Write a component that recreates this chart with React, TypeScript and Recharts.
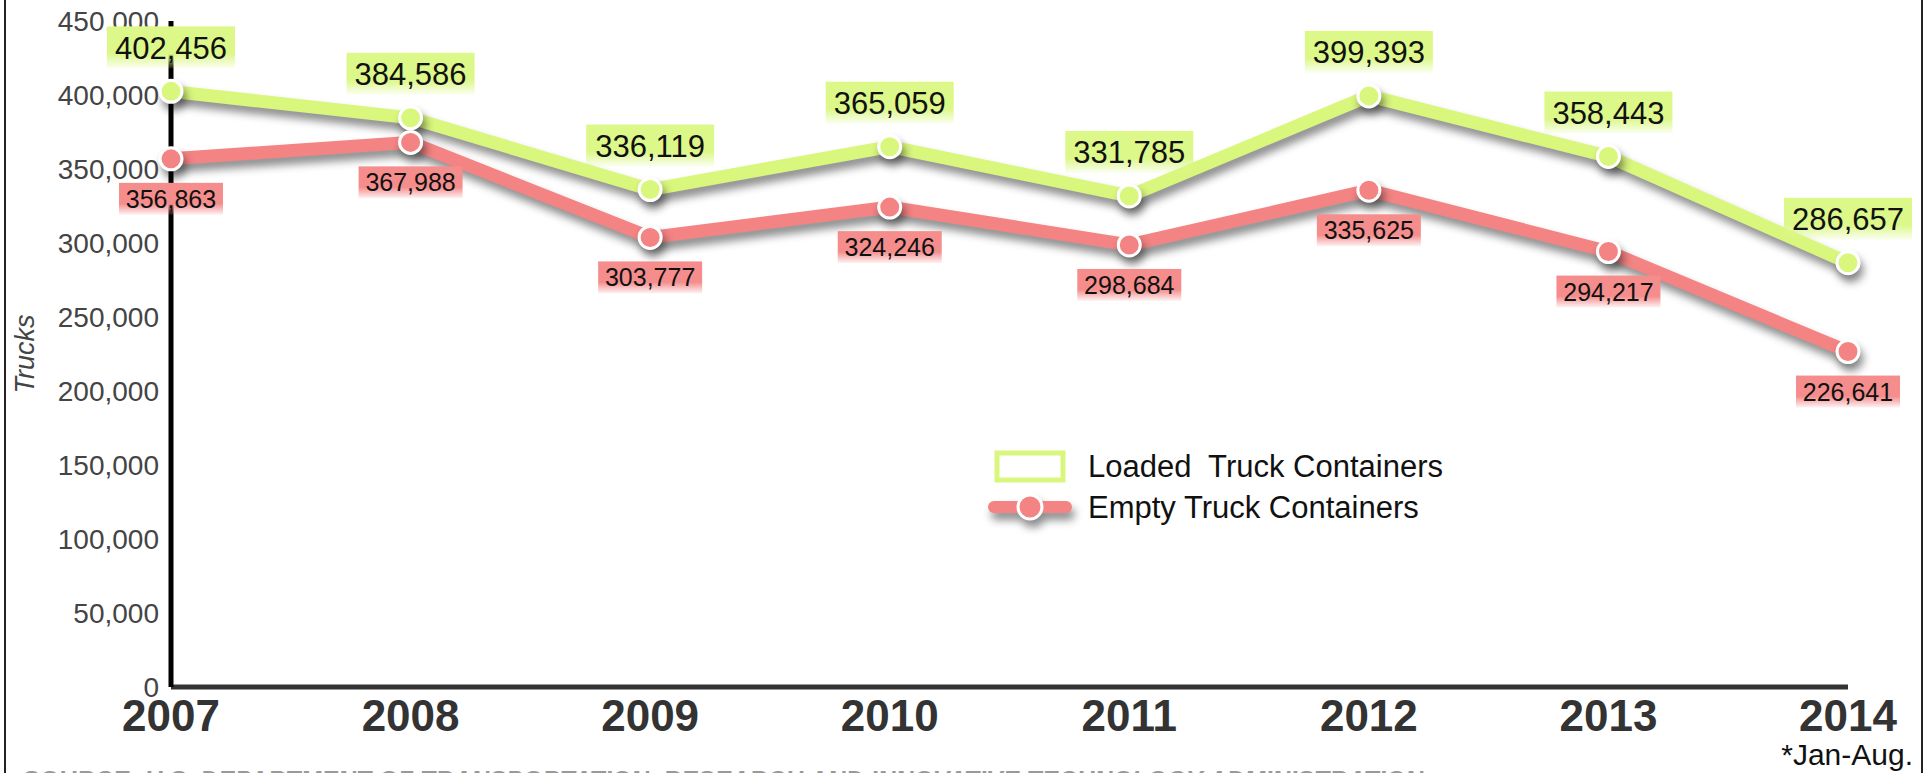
import React from 'react';
import { LineChart, Line, XAxis, YAxis, Legend } from 'recharts';

const years = ['2007', '2008', '2009', '2010', '2011', '2012', '2013', '2014'];
const loaded = [402456, 384586, 336119, 365059, 331785, 399393, 358443, 286657];
const empty = [356863, 367988, 303777, 324246, 298684, 335625, 294217, 226641];
const yTicks = [0, 50000, 100000, 150000, 200000, 250000, 300000, 350000, 400000, 450000];

const data = years.map((year, i) => ({ year, loaded: loaded[i], empty: empty[i] }));

const GREEN = '#d9f77d';
const RED = '#f48383';
const FONT = '"Liberation Sans", Arial, sans-serif';

const fmt = (v: number) => v.toLocaleString('en-US');

const GreenLabel = (props: any) => {
    const { x, y, value } = props;
    const cy = y - 44;
    return (
        <g>
            <rect x={x - 64} y={cy - 21} width={128} height={42} fill="url(#greenBox)" />
            <text x={x} y={cy} dy="0.36em" textAnchor="middle" fontSize={31} fill="#111" fontFamily={FONT}>
                {fmt(value)}
            </text>
        </g>
    );
};

const RedLabel = (props: any) => {
    const { x, y, value } = props;
    const cy = y + 40;
    return (
        <g>
            <rect x={x - 52} y={cy - 16} width={104} height={32} fill="url(#redBox)" />
            <text x={x} y={cy} dy="0.36em" textAnchor="middle" fontSize={25} fill="#111" fontFamily={FONT}>
                {fmt(value)}
            </text>
        </g>
    );
};

const LegendBox = () => (
    <div style={{ fontFamily: FONT, fontSize: 31, color: '#111' }}>
        <div style={{ display: 'flex', alignItems: 'center', height: 41 }}>
            <svg width={100} height={41}>
                <rect x={9} y={7} width={66} height={27} fill="none" stroke={GREEN} strokeWidth={5} />
            </svg>
            <span style={{ whiteSpace: 'pre' }}>Loaded  Truck Containers</span>
        </div>
        <div style={{ display: 'flex', alignItems: 'center', height: 41 }}>
            <svg width={100} height={41} style={{ overflow: 'visible' }}>
                <g className="shadowed">
                    <line x1={6} y1={20} x2={78} y2={20} stroke={RED} strokeWidth={12} strokeLinecap="round" />
                    <circle cx={42} cy={20} r={12} fill={RED} stroke="#fff" strokeWidth={3} />
                </g>
            </svg>
            <span>Empty Truck Containers</span>
        </div>
    </div>
);

export default function App() {
    return (
        <div style={{ position: 'relative', width: 1927, height: 773, overflow: 'hidden', background: '#fff' }}>
            <style>{`
                body { margin: 0; }
                .recharts-line-curve, .recharts-line-dots, .shadowed { filter: drop-shadow(3px 7px 4px rgba(0,0,0,0.45)); }
            `}</style>
            <div style={{ position: 'absolute', left: 4, top: 0, width: 2, height: 773, background: '#222' }} />
            <div style={{ position: 'absolute', left: 1921, top: 0, width: 2, height: 773, background: '#222' }} />

            <LineChart width={1927} height={773} data={data} margin={{ top: 21, right: 79, bottom: 0, left: 0 }}>
                <defs>
                    <linearGradient id="greenBox" x1="0" y1="0" x2="0" y2="1">
                        <stop offset="0%" stopColor="#dcf889" />
                        <stop offset="65%" stopColor="#dcf889" />
                        <stop offset="100%" stopColor="#dcf889" stopOpacity={0.1} />
                    </linearGradient>
                    <linearGradient id="redBox" x1="0" y1="0" x2="0" y2="1">
                        <stop offset="0%" stopColor="#f58d8d" />
                        <stop offset="65%" stopColor="#f58d8d" />
                        <stop offset="100%" stopColor="#f58d8d" stopOpacity={0.1} />
                    </linearGradient>
                </defs>
                <XAxis
                    dataKey="year"
                    height={86}
                    axisLine={{ stroke: '#333', strokeWidth: 5 }}
                    tickLine={false}
                    tickSize={0}
                    tickMargin={13}
                    interval={0}
                    tick={{ fontSize: 44, fontWeight: 'bold', fill: '#333', fontFamily: FONT }}
                />
                <YAxis
                    width={171}
                    domain={[0, 450000]}
                    ticks={yTicks}
                    interval={0}
                    tickFormatter={fmt}
                    axisLine={{ stroke: '#000', strokeWidth: 5 }}
                    tickLine={false}
                    tickSize={0}
                    tickMargin={12}
                    tick={{ fontSize: 28, fill: '#444', fontFamily: FONT }}
                    label={{
                        value: 'Trucks',
                        angle: -90,
                        position: 'insideLeft',
                        offset: 24,
                        style: { fontSize: 27, fontStyle: 'italic', fill: '#444', fontFamily: FONT, textAnchor: 'middle' },
                    }}
                />
                <Line
                    dataKey="loaded"
                    stroke={GREEN}
                    strokeWidth={13}
                    dot={{ r: 11, fill: GREEN, stroke: '#fff', strokeWidth: 3 }}
                    activeDot={false}
                    label={<GreenLabel />}
                    isAnimationActive={false}
                />
                <Line
                    dataKey="empty"
                    stroke={RED}
                    strokeWidth={13}
                    dot={{ r: 11, fill: RED, stroke: '#fff', strokeWidth: 3 }}
                    activeDot={false}
                    label={<RedLabel />}
                    isAnimationActive={false}
                />
                <Legend
                    layout="vertical"
                    align="center"
                    verticalAlign="middle"
                    content={<LegendBox />}
                    wrapperStyle={{ left: 988, top: 446, width: 'auto' }}
                />
            </LineChart>

            <div style={{ position: 'absolute', right: 14, top: 738, fontFamily: FONT, fontSize: 30, color: '#111' }}>
                *Jan-Aug.
            </div>
            <div
                style={{
                    position: 'absolute', left: 22, top: 768, fontFamily: FONT, fontSize: 25, fontWeight: 'bold',
                    fontStyle: 'italic', color: '#999', whiteSpace: 'nowrap', lineHeight: 1,
                }}
            >
                SOURCE: U.S. DEPARTMENT OF TRANSPORTATION, RESEARCH AND INNOVATIVE TECHNOLOGY ADMINISTRATION
            </div>
        </div>
    );
}
